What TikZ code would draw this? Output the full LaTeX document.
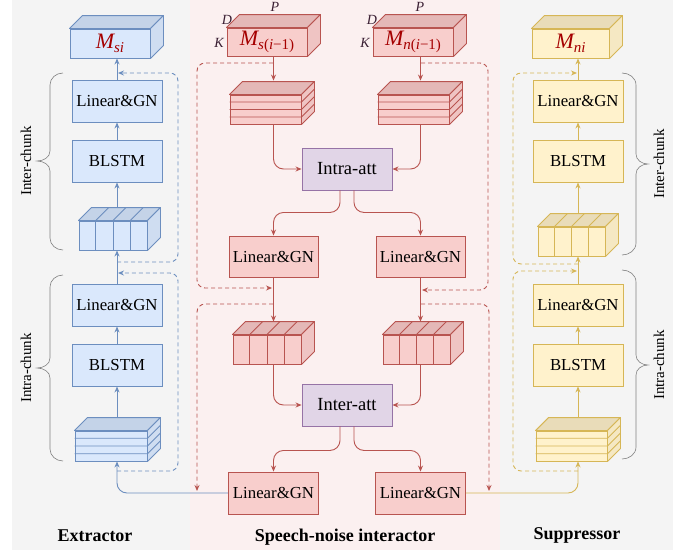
\documentclass[tikz,border=0pt]{standalone}
\usepackage{fontspec}
\setmainfont{Liberation Serif}
\usetikzlibrary{arrows.meta,calc}
\definecolor{bline}{HTML}{6C8EBF}\definecolor{bfill}{HTML}{DAE8FC}\definecolor{btop}{HTML}{C4D3E8}\definecolor{bside}{HTML}{CFDDF1}
\definecolor{rline}{HTML}{B85450}\definecolor{rfill}{HTML}{F8CECC}\definecolor{rtop}{HTML}{E4B8B7}\definecolor{rside}{HTML}{EFC4C3}
\definecolor{yline}{HTML}{D6B656}\definecolor{yfill}{HTML}{FFF2CC}\definecolor{ytop}{HTML}{E9DCB9}\definecolor{yside}{HTML}{F5E8C3}
\definecolor{pline}{HTML}{9673A6}\definecolor{pfill}{HTML}{E1D5E7}
\definecolor{bggray}{HTML}{F4F4F4}\definecolor{bgpink}{HTML}{FBF0F0}
\definecolor{brgray}{HTML}{808080}\definecolor{mred}{HTML}{A50000}\definecolor{dpk}{HTML}{3A1F33}
\newcommand{\Mlab}[1]{\textcolor{mred}{{\fontsize{22}{22}\selectfont\itshape M}\raisebox{-4pt}{\fontsize{15}{15}\selectfont #1}}}
\newcommand{\cubefaces}[5]{%
  \filldraw[draw=#5, line width=0.9pt, line join=round, fill=#3] (#1.north west) -- ++(#2,-#2) -- ($(#1.north east)+(#2,-#2)$) -- (#1.north east) -- cycle;
  \filldraw[draw=#5, line width=0.9pt, line join=round, fill=#4] (#1.north east) -- ++(#2,-#2) -- ($(#1.south east)+(#2,-#2)$) -- (#1.south east) -- cycle;}
\newcommand{\vslices}[3]{%
  \foreach \k in {1,2,3} {
    \draw[#3, line width=0.9pt] ($(#1.north west)!\k/4!(#1.north east)$) -- ($(#1.south west)!\k/4!(#1.south east)$);
    \draw[#3, line width=0.9pt] ($(#1.north west)!\k/4!(#1.north east)$) -- ++(#2,-#2);}}
\newcommand{\hslices}[3]{%
  \foreach \k in {1,2,3} {
    \draw[#3, line width=0.9pt] ($(#1.north west)!\k/4!(#1.south west)$) -- ($(#1.north east)!\k/4!(#1.south east)$) -- ++(#2,-#2);}}
\tikzset{
  box/.style={draw, line width=0.9pt, minimum width=90pt, minimum height=42pt, inner sep=0pt, font=\fontsize{16.8}{18}\selectfont},
  bbox/.style={box, draw=bline, fill=bfill},
  rbox/.style={box, draw=rline, fill=rfill},
  ybox/.style={box, draw=yline, fill=yfill},
  pbox/.style={box, draw=pline, fill=pfill, font=\fontsize{18.5}{20}\selectfont},
  face/.style={draw, line width=0.9pt, inner sep=0pt},
  bface/.style={face, draw=bline, fill=bfill},
  rface/.style={face, draw=rline, fill=rfill},
  yface/.style={face, draw=yline, fill=yfill},
  arr/.style={-{Stealth[length=6pt,width=5pt]}},
  bcon/.style={draw=bline, line width=0.9pt},
  rcon/.style={draw=rline, line width=0.9pt},
  ycon/.style={draw=yline, line width=0.9pt},
  dsh/.style={dash pattern=on 4pt off 3pt, rounded corners=8pt},
  brc/.style={draw=brgray, line width=0.6pt},
  dimlab/.style={text=dpk, font=\fontsize{14}{14}\selectfont\itshape, inner sep=0pt},
  sidelab/.style={rotate=90, font=\fontsize{15}{15}\selectfont, inner sep=0pt},
  title/.style={font=\fontsize{18}{20}\selectfont\bfseries, inner sep=0pt}
}
\begin{document}
\begin{tikzpicture}[x=1pt,y=-1pt]
\useasboundingbox (0,0) rectangle (683,550);
\fill[bggray] (12,0) rectangle (190,550);
\fill[bgpink] (190,0) rectangle (500,550);
\fill[bggray] (500,0) rectangle (673,550);

% ---------- Extractor (blue) ----------
\node[bface, minimum width=80pt, minimum height=29pt] (MsiB) at (110,43.5) {\Mlab{\itshape si}};
\cubefaces{MsiB}{13}{btop}{bside}{bline}
\node[bbox] (lgB1) at (117,101) {Linear\&GN};
\node[bbox] (blB1) at (117,161) {BLSTM};
\node[bface, minimum width=68pt, minimum height=29pt] (vcB) at (113,235.5) {};
\cubefaces{vcB}{13}{btop}{bside}{bline}
\vslices{vcB}{13}{bline}
\node[bbox] (lgB2) at (117,305) {Linear\&GN};
\node[bbox] (blB2) at (117,365) {BLSTM};
\node[bface, minimum width=72pt, minimum height=30pt] (hcB) at (111,446) {};
\cubefaces{hcB}{13}{btop}{bside}{bline}
\hslices{hcB}{13}{bline}

% ---------- Suppressor (yellow) ----------
\node[yface, minimum width=77pt, minimum height=29pt] (MniY) at (570.5,43.5) {\Mlab{\itshape ni}};
\cubefaces{MniY}{13}{ytop}{yside}{yline}
\node[ybox] (lgY1) at (578,101) {Linear\&GN};
\node[ybox] (blY1) at (578,161) {BLSTM};
\node[yface, minimum width=67pt, minimum height=29pt] (vcY) at (571.5,241.5) {};
\cubefaces{vcY}{13}{ytop}{yside}{yline}
\vslices{vcY}{13}{yline}
\node[ybox] (lgY2) at (578,305) {Linear\&GN};
\node[ybox] (blY2) at (578,365) {BLSTM};
\node[yface, minimum width=71pt, minimum height=30pt] (hcY) at (571.5,446) {};
\cubefaces{hcY}{13}{ytop}{yside}{yline}
\hslices{hcY}{13}{yline}

% ---------- Interactor (red) ----------
\node[rface, minimum width=80pt, minimum height=28pt] (MsR) at (267,42) {\Mlab{\itshape s\upshape(\itshape i\upshape−1)}};
\cubefaces{MsR}{13}{rtop}{rside}{rline}
\node[rface, minimum width=80pt, minimum height=28pt] (MnR) at (413,42) {\Mlab{\itshape n\upshape(\itshape i\upshape−1)}};
\cubefaces{MnR}{13}{rtop}{rside}{rline}
\node[dimlab] (pL) at (275,7) {P};
\node[dimlab] (dL) at (227,20) {D};
\node[dimlab] (kL) at (219,43) {K};
\node[dimlab] (pR) at (420,7) {P};
\node[dimlab] (dR) at (372,20) {D};
\node[dimlab] (kR) at (365,43) {K};
\node[rface, minimum width=71pt, minimum height=29pt] (hcR1) at (265.5,109.5) {};
\cubefaces{hcR1}{13}{rtop}{rside}{rline}
\hslices{hcR1}{13}{rline}
\node[rface, minimum width=71pt, minimum height=29pt] (hcR2) at (413.5,109.5) {};
\cubefaces{hcR2}{13}{rtop}{rside}{rline}
\hslices{hcR2}{13}{rline}
\node[pbox] (intra) at (347,169) {Intra-att};
\node[rbox, minimum width=89pt, minimum height=41pt] (lgR1) at (273.5,256.5) {Linear\&GN};
\node[rbox, minimum width=89pt, minimum height=41pt] (lgR2) at (420.5,256.5) {Linear\&GN};
\node[rface, minimum width=68pt, minimum height=29pt] (vcR1) at (267,349.5) {};
\cubefaces{vcR1}{13}{rtop}{rside}{rline}
\vslices{vcR1}{13}{rline}
\node[rface, minimum width=67pt, minimum height=29pt] (vcR2) at (416.5,349.5) {};
\cubefaces{vcR2}{13}{rtop}{rside}{rline}
\vslices{vcR2}{13}{rline}
\node[pbox] (inter) at (347,405) {Inter-att};
\node[rbox] (snL) at (273.5,493) {Linear\&GN};
\node[rbox] (snR) at (420.5,493) {Linear\&GN};

% ---------- blue connectors ----------
\draw[bcon,arr] (lgB1.north) -- (lgB1.north |- MsiB.south);
\draw[bcon,arr] (blB1.north) -- (lgB1.south);
\draw[bcon,arr] ($(blB1.south |- vcB.north)+(0,-14)$) -- (blB1.south);
\draw[bcon,arr] (lgB2.north) -- (lgB2.north |- vcB.south);
\draw[bcon,arr] (blB2.north) -- (lgB2.south);
\draw[bcon,arr] ($(blB2.south |- hcB.north)+(0,-13)$) -- (blB2.south);
\draw[bcon,arr,rounded corners=10pt] (snL.west) -| (blB2.south |- hcB.south);
\coordinate (bS1) at (117,262);
\coordinate (bS2) at (117,471);
\draw[bcon,dsh,arr] (bS1) -- (178,262) -- (178,73) -- (118,73);
\draw[bcon,dsh,arr] (bS2) -- (178,471) -- (178,273) -- (118,273);

% ---------- yellow connectors ----------
\draw[ycon,arr] (lgY1.north) -- (lgY1.north |- MniY.south);
\draw[ycon,arr] (blY1.north) -- (lgY1.south);
\draw[ycon,arr] ($(blY1.south |- vcY.north)+(0,-14)$) -- (blY1.south);
\draw[ycon,arr] (lgY2.north) -- (lgY2.north |- vcY.south);
\draw[ycon,arr] (blY2.north) -- (lgY2.south);
\draw[ycon,arr] ($(blY2.south |- hcY.north)+(0,-13)$) -- (blY2.south);
\draw[ycon,arr,rounded corners=10pt] (snR.east) -| (blY2.south |- hcY.south);
\coordinate (yS1) at (578,264);
\coordinate (yS2) at (578,471);
\draw[ycon,dsh,arr] (yS1) -- (513,264) -- (513,73) -- (577,73);
\draw[ycon,dsh,arr] (yS2) -- (513,471) -- (513,271) -- (577,271);

% ---------- red connectors ----------
\draw[rcon,arr] (lgR1.north |- MsR.south) -- ($(lgR1.north |- hcR1.north)+(0,-14)$);
\draw[rcon,arr] (lgR2.north |- MnR.south) -- ($(lgR2.north |- hcR2.north)+(0,-14)$);
\draw[rcon,arr,rounded corners=10pt] (lgR1.north |- hcR1.south) |- (intra.west);
\draw[rcon,arr,rounded corners=10pt] (lgR2.north |- hcR2.south) |- (intra.east);
\draw[rcon,arr,rounded corners=10pt] ($(intra.south)+(-7,0)$) -- ++(0,22) -| (lgR1.north);
\draw[rcon,arr,rounded corners=10pt] ($(intra.south)+(7,0)$) -- ++(0,22) -| (lgR2.north);
\draw[rcon,arr] (lgR1.south) -- ($(lgR1.south |- vcR1.north)+(0,-13)$);
\draw[rcon,arr] (lgR2.south) -- ($(lgR2.south |- vcR2.north)+(0,-13)$);
\draw[rcon,arr,rounded corners=10pt] (lgR1.south |- vcR1.south) |- (inter.west);
\draw[rcon,arr,rounded corners=10pt] (lgR2.south |- vcR2.south) |- (inter.east);
\draw[rcon,arr,rounded corners=10pt] ($(inter.south)+(-7,0)$) -- ++(0,24) -| (snL.north);
\draw[rcon,arr,rounded corners=10pt] ($(inter.south)+(7,0)$) -- ++(0,24) -| (snR.north);
\coordinate (rS1) at (273,63);
\coordinate (rS2) at (421,63);
\coordinate (rS3) at (273,304);
\coordinate (rS4) at (421,304);
\draw[rcon,dsh,arr] (rS1) -- (197,63) -- (197,288) -- (272,288);
\draw[rcon,dsh,arr] (rS2) -- (488,63) -- (488,290) -- (422,290);
\draw[rcon,dsh,arr] (rS3) -- (197,304) -- (197,491);
\draw[rcon,dsh,arr] (rS4) -- (489,304) -- (489,491);

% ---------- braces ----------
\draw[brc] (63,73) to[out=180,in=90] (50,85) -- (50,151) to[out=-90,in=0] (37,161) to[out=0,in=90] (50,171) -- (50,238) to[out=-90,in=180] (63,250);
\draw[brc] (63,275) to[out=180,in=90] (50,287) -- (50,358) to[out=-90,in=0] (37,368) to[out=0,in=90] (50,378) -- (50,449) to[out=-90,in=180] (63,461);
\draw[brc] (622,73) to[out=0,in=90] (636,85) -- (636,154) to[out=-90,in=180] (648,164) to[out=180,in=90] (636,174) -- (636,243) to[out=-90,in=0] (622,255);
\draw[brc] (622,270) to[out=0,in=90] (636,282) -- (636,355) to[out=-90,in=180] (648,365) to[out=180,in=90] (636,375) -- (636,447) to[out=-90,in=0] (622,459);
\node[sidelab] (tL1) at (26,161) {Inter-chunk};
\node[sidelab] (tL2) at (26,368) {Intra-chunk};
\node[sidelab] (tR1) at (659,164) {Inter-chunk};
\node[sidelab] (tR2) at (659,365) {Intra-chunk};

% ---------- titles ----------
\node[title] (t1) at (95,536) {Extractor};
\node[title] (t2) at (345,537) {Speech-noise interactor};
\node[title] (t3) at (577,535) {Suppressor};
\end{tikzpicture}
\end{document}
